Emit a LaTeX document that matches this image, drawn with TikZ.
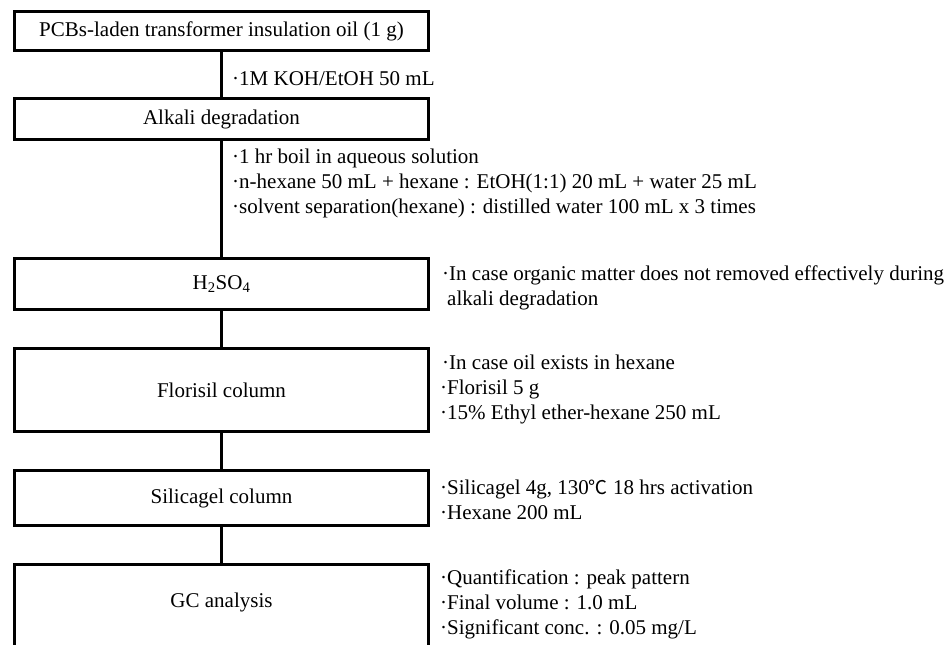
\documentclass[tikz,border=0pt]{standalone}
\usepackage{fontspec}
\setmainfont{Liberation Serif}
\newfontfamily\symfnt{Noto Sans CJK KR}
\begin{document}
\begin{tikzpicture}[x=1pt,y=-1pt,
  font=\fontsize{21}{25}\selectfont,
  stepbox/.style={draw,line width=3.3pt,inner sep=0pt,minimum width=414pt},
  conn/.style={line width=3pt},
  txt/.style={anchor=base west,inner sep=0pt}]
\useasboundingbox[fill=white] (0,0) rectangle (951,645);
% boxes
\node[stepbox,minimum height=39pt] (b1) at (221.5,31) {PCBs-laden transformer insulation oil (1 g)};
\node[stepbox,minimum height=41pt] (b2) at (221.5,119) {Alkali degradation};
\node[stepbox,minimum height=51pt] (b3) at (221.5,284) {H\textsubscript{2}SO\textsubscript{4}};
\node[stepbox,minimum height=83pt] (b4) at (221.5,390) {Florisil column};
\node[stepbox,minimum height=55pt] (b5) at (221.5,498) {Silicagel column};
\node[stepbox,minimum height=100pt] (b6) at (221.5,614.5) {};
\node[inner sep=0pt,anchor=base] (b6l) at (221.5,607) {GC analysis};
% connectors
\draw[conn] (b1.south) -- (b2.north);
\draw[conn] (b2.south) -- (b3.north);
\draw[conn] (b3.south) -- (b4.north);
\draw[conn] (b4.south) -- (b5.north);
\draw[conn] (b5.south) -- (b6.north);
% texts
\node[txt] (t1) at (232,85) {·1M KOH/EtOH 50 mL};
\node[txt] (t2) at (232,163) {·1 hr boil in aqueous solution};
\node[txt] (t3) at (232,188) {·n-hexane 50 mL + hexane : EtOH(1:1) 20 mL + water 25 mL};
\node[txt] (t4) at (232,213) {·solvent separation(hexane) : distilled water 100 mL x 3 times};
\node[txt] (t5) at (442,280) {·In case organic matter does not removed effectively during};
\node[txt] (t6) at (447,305) {alkali degradation};
\node[txt] (t7) at (442,369) {·In case oil exists in hexane};
\node[txt] (t8) at (440,394) {·Florisil 5 g};
\node[txt] (t9) at (440,419) {·15\% Ethyl ether-hexane 250 mL};
\node[txt] (t10) at (440,494) {·Silicagel 4g, 130{\symfnt\fontsize{19}{25}\selectfont ℃} 18 hrs activation};
\node[txt] (t11) at (440,519) {·Hexane 200 mL};
\node[txt] (t12) at (440,584) {·Quantification : peak pattern};
\node[txt] (t13) at (440,609) {·Final volume : 1.0 mL};
\node[txt] (t14) at (440,634) {·Significant conc. : 0.05 mg/L};
\end{tikzpicture}
\end{document}
